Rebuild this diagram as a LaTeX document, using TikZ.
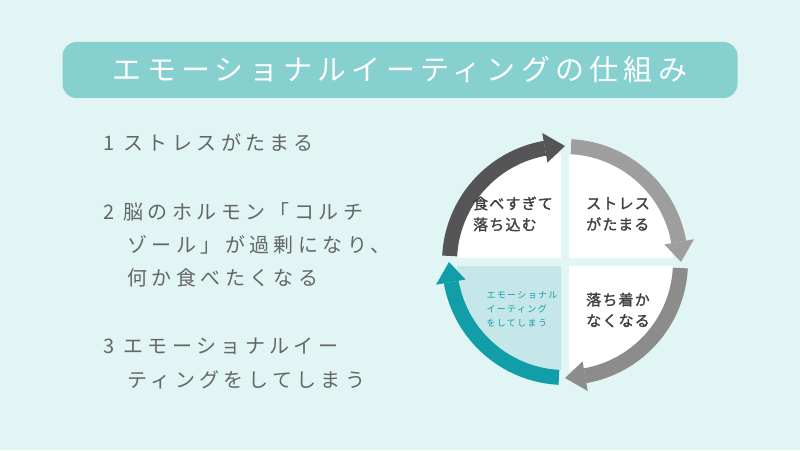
\documentclass[tikz,border=0pt]{standalone}
\usepackage{fontspec}
\setmainfont{Noto Sans CJK JP}
\newfontfamily\ttl[LetterSpace=18]{Noto Sans CJK JP}
\newfontfamily\lft[LetterSpace=22]{Noto Sans CJK JP}
\newfontfamily\qd[LetterSpace=8,FakeBold=1.5]{Noto Sans CJK JP}
\newfontfamily\qs[LetterSpace=15]{Noto Sans CJK JP}
\definecolor{bg}{HTML}{E1F5F5}
\definecolor{banner}{HTML}{86D0CF}
\definecolor{txt}{HTML}{666666}
\definecolor{dk}{HTML}{555457}
\definecolor{g1}{HTML}{9E9E9E}
\definecolor{g2}{HTML}{8C8C8C}
\definecolor{teal}{HTML}{129EA9}
\definecolor{lteal}{HTML}{C6E7E9}
\newcommand{\cyc}[3]{% color, start, end
  \fill[#1] ($(C)+(#2:123)$) arc[start angle=#2,end angle=#3+10,radius=123]
     -- ($(C)+(#3+10:108)$) arc[start angle=#3+10,end angle=#2,radius=108] -- cycle;
  \fill[#1] ($(C)+(#3+10:101)$) -- ($(C)+(#3+10:131)$) -- ($(C)+(#3:116)$) -- cycle;}
\usetikzlibrary{calc}
\tikzset{lt/.style={anchor=west,text=txt,font=\fontsize{20}{20}\lft},
qt/.style={text=black!75,font=\fontsize{15}{21}\qd,align=left}}
\begin{document}
\begin{tikzpicture}[x=1pt,y=1pt]
\fill[bg] (0,0) rectangle (800,450);
\useasboundingbox (0,0) rectangle (800,450);
\node[fill=banner,rounded corners=14pt,minimum width=675pt,minimum height=56pt,text=white,font=\fontsize{29}{29}\ttl] (title) at (400,380) {エモーショナルイーティングの仕組み};
\node[lt] (l1) at (100,307) {1 ストレスがたまる};
\node[lt] (l2) at (100,238) {2 脳のホルモン「コルチ};
\node[lt] (l3) at (124,205) {ゾール」が過剰になり、};
\node[lt] (l4) at (124,172) {何か食べたくなる};
\node[lt] (l5) at (100,104) {3 エモーショナルイー};
\node[lt] (l6) at (124,70) {ティングをしてしまう};
\coordinate (C) at (565,188);
\begin{scope}
\clip (C) circle (108);
\fill[white] ($(C)+(4,4)$) rectangle +(120,120);
\fill[white] ($(C)+(-4,4)$) rectangle +(-120,120);
\fill[white] ($(C)+(4,-4)$) rectangle +(120,-120);
\fill[lteal] ($(C)+(-4,-4)$) rectangle +(-120,-120);
\end{scope}
\cyc{dk}{177}{90}
\cyc{g1}{87}{0}
\cyc{g2}{-3}{-90}
\cyc{teal}{-93}{-180}
\node[qt] (q1) at (513,236) {食べすぎて\\落ち込む};
\node[qt] (q2) at (618,236) {ストレス\\がたまる};
\node[qt] (q3) at (618,140) {落ち着か\\なくなる};
\node[anchor=north west,text=teal,font=\fontsize{9}{14}\qs,align=left] (q4) at (483,162) {エモーショナル\\イーティング\\をしてしまう};
\end{tikzpicture}
\end{document}
